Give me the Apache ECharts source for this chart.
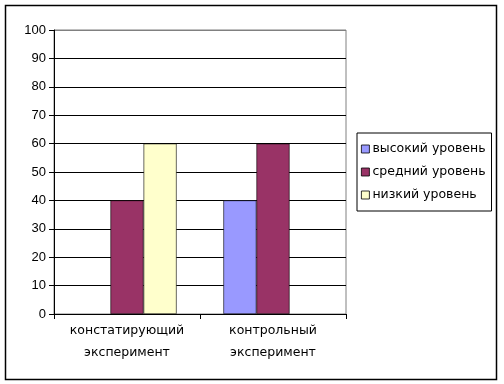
<!DOCTYPE html>
<html><head><meta charset="utf-8">
<script src="https://cdn.jsdelivr.net/npm/echarts@6/dist/echarts.min.js"></script>
<style>html,body{margin:0;padding:0;background:#fff}#c{width:504px;height:384px}</style>
</head><body><div id="c"></div>
<script>
const categories = ['констатирующий\nэксперимент', 'контрольный\nэксперимент'];
const seriesNames = ['высокий уровень', 'средний уровень', 'низкий уровень'];
const highValues = [0, 40];
const midValues = [40, 60];
const lowValues = [60, 0];
const yTicks = [0, 10, 20, 30, 40, 50, 60, 70, 80, 90, 100];
const colors = ['#9999FF', '#993366', '#FFFFCC'];
const font = 'Liberation Sans, Arial, sans-serif';
const wide = 'DejaVu Sans, sans-serif';
const chart = echarts.init(document.getElementById('c'), null, {renderer: 'canvas'});
const splitColors = yTicks.map((v, i) => i === yTicks.length - 1 ? '#808080' : '#000');
const toData = arr => arr.map(v => ({value: v, itemStyle: v === 0 ? {borderWidth: 0} : {}}));
chart.setOption({
  animation: false,
  backgroundColor: '#fff',
  graphic: [{type: 'rect', shape: {x: 5.5, y: 5.5, width: 491, height: 374}, style: {fill: 'none', stroke: '#000', lineWidth: 1.5}, z: 100}],
  grid: {left: 54, right: 158, top: 30, bottom: 70, show: true, borderColor: '#808080', borderWidth: 1, backgroundColor: '#fff'},
  legend: {
    orient: 'vertical', left: 357, top: 133, width: 137,
    data: seriesNames, icon: 'rect', itemWidth: 8, itemHeight: 8, itemGap: 9,
    borderColor: '#000', borderWidth: 1, padding: [9, 6, 9, 4],
    textStyle: {fontFamily: wide, fontSize: 12.5, color: '#000', padding: [0, 0, 0, -2], lineHeight: 14},
    itemStyle: {borderColor: '#000', borderWidth: 0.8}
  },
  xAxis: {
    type: 'category', data: categories,
    axisLine: {lineStyle: {color: '#000'}},
    axisTick: {show: true, length: 5, lineStyle: {color: '#000'}},
    axisLabel: {interval: 0, fontFamily: wide, fontSize: 12.5, color: '#000', margin: 6, lineHeight: 22}
  },
  yAxis: {
    type: 'value', min: 0, max: 100, interval: 10,
    axisLine: {show: true, lineStyle: {color: '#000'}},
    axisTick: {show: true, length: 5, lineStyle: {color: '#000'}},
    axisLabel: {fontFamily: font, fontSize: 13, color: '#000', margin: 8},
    splitLine: {show: true, lineStyle: {color: splitColors, width: 1}}
  },
  series: [
    {name: seriesNames[0], type: 'bar', data: toData(highValues), barGap: '0%', barCategoryGap: '32%', itemStyle: {color: colors[0], borderColor: '#000', borderWidth: 0.6}},
    {name: seriesNames[1], type: 'bar', data: toData(midValues), itemStyle: {color: colors[1], borderColor: '#000', borderWidth: 0.6}},
    {name: seriesNames[2], type: 'bar', data: toData(lowValues), itemStyle: {color: colors[2], borderColor: '#000', borderWidth: 0.6}}
  ]
});
</script></body></html>
